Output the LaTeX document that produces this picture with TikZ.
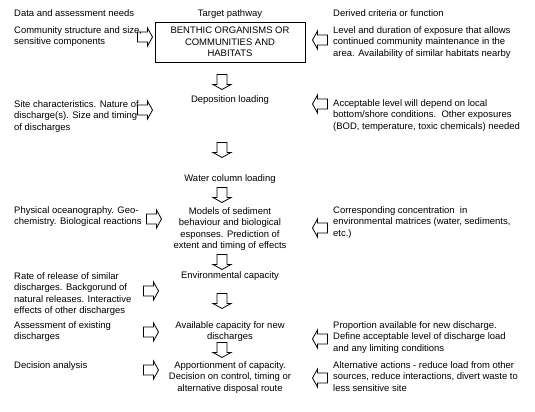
\documentclass[tikz,border=0pt]{standalone}
\usepackage{fontspec}
\setmainfont{Liberation Sans}

\begin{document}
\begin{tikzpicture}[x=1bp, y=-1bp,
      txt/.style={font=\fontsize{9.5}{11.6}\selectfont, inner sep=0pt},
      lft/.style={txt, anchor=north west, align=left},
      mid/.style={txt, anchor=north, align=center},
      blk/.pic={\draw[line width=0.8bp] (-7.5,-5) -- (2.5,-5) -- (2.5,-9)
        -- (7.5,0) -- (2.5,9) -- (2.5,5) -- (-7.5,5) -- cycle;},
      darr/.style={rotate=-90},
      larr/.style={rotate=180}
    ]
    \useasboundingbox (0,0) rectangle (535,411);
    % column headings
    \node[lft] (hdata) at (14,9) {Data and assessment needs};
    \node[mid] (htarget) at (230,9) {Target pathway};
    \node[lft] (hderived) at (333,9) {Derived criteria or function};

    % target pathway
    \node[txt, draw, line width=0.8bp, align=center, minimum width=150bp,
      minimum height=40bp] (benthic) at (230,42)
      {BENTHIC ORGANISMS OR\\COMMUNITIES AND\\HABITATS};
    \node[mid] (depo) at (230,95) {Deposition loading};
    \node[mid] (water) at (230,174) {Water column loading};
    \node[mid] (models) at (230,207) {Models of sediment\\behaviour and biological\\esponses. Prediction of\\extent and timing of effects};
    \node[mid] (envcap) at (230,271) {Environmental capacity};
    \node[mid] (avail) at (230,321) {Available capacity for new\\discharges};
    \node[mid] (apport) at (230,361) {Apportionment of capacity.\\Decision on control, timing or\\alternative disposal route};

    % data and assessment needs
    \node[lft] (community) at (14,26) {Community structure and size,\\sensitive components};
    \node[lft] (site) at (14,100) {Site characteristics. Nature of\\discharge(s). Size and timing\\of discharges};
    \node[lft] (physical) at (14,206) {Physical oceanography. Geo-\\chemistry. Biological reactions};
    \node[lft] (release) at (14,272) {Rate of release of similar\\discharges. Backgorund of\\natural releases. Interactive\\effects of other discharges};
    \node[lft] (assess) at (14,321) {Assessment of existing\\discharges};
    \node[lft] (decision) at (14,361) {Decision analysis};

    % derived criteria or function
    \node[lft] (level) at (333,26) {Level and duration of exposure that allows\\continued community maintenance in the\\area. Availability of similar habitats nearby};
    \node[lft] (accept) at (333,99) {Acceptable level will depend on local\\bottom/shore conditions.\ \ Other exposures\\(BOD, temperature, toxic chemicals) needed};
    \node[lft] (corresp) at (333,206) {Corresponding concentration\ \ in\\environmental matrices (water, sediments,\\etc.)};
    \node[lft] (portion) at (333,321) {Proportion available for new discharge.\\Define acceptable level of discharge load\\and any limiting conditions};
    \node[lft] (altern) at (333,361) {Alternative actions - reduce load from other\\sources, reduce interactions, divert waste to\\less sensitive site};

    % block arrows down the pathway
    \pic[darr] (d1) at (222,82) {blk};
    \pic[darr] (d2) at (222,150) {blk};
    \pic[darr] (d3) at (222,195) {blk};
    \pic[darr] (d4) at (222,262) {blk};
    \pic[darr] (d5) at (222,301) {blk};
    \pic[darr] (d6) at (222,350) {blk};

    % block arrows from the left
    \pic (l1) at (145,37) {blk};
    \pic (l2) at (145,110) {blk};
    \pic (l3) at (154,219) {blk};
    \pic (l4) at (151,291) {blk};
    \pic (l5) at (151,332) {blk};
    \pic (l6) at (151,370) {blk};

    % block arrows from the right
    \pic[larr] (r1) at (320,40) {blk};
    \pic[larr] (r2) at (320,104) {blk};
    \pic[larr] (r3) at (320,228) {blk};
    \pic[larr] (r5) at (320,339) {blk};
    \pic[larr] (r6) at (320,378) {blk};
  \end{tikzpicture}
\end{document}
